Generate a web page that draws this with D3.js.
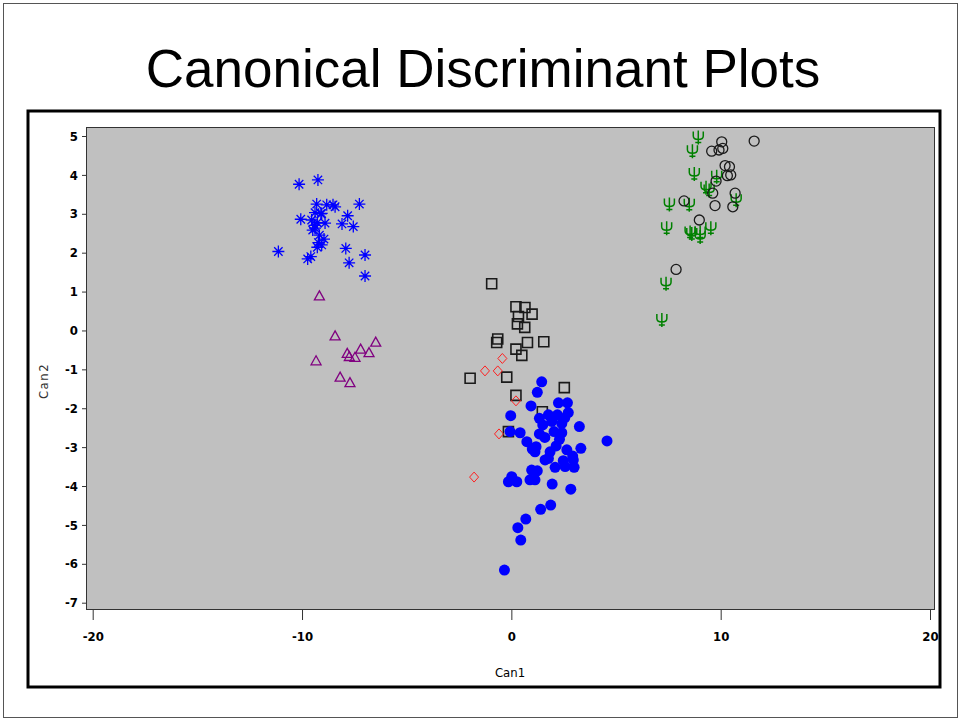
<!DOCTYPE html>
<html><head><meta charset="utf-8">
<script src="https://cdn.jsdelivr.net/npm/d3@7"></script>
<style>body{margin:0;background:#fff}svg{display:block}</style>
</head><body>
<svg id="c" width="961" height="721"></svg>
<script>
const title = "Canonical Discriminant Plots";
const xTicks = [-20, -10, 0, 10, 20];
const yTicks = [-7,-6,-5,-4,-3,-2,-1,0,1,2,3,4,5];
// groups: [Can1, Can2]
const stars = [[-10.14,3.76],[-9.24,3.87],[-9.30,3.25],[-8.82,3.23],[-8.42,3.18],[-8.52,3.23],[-7.26,3.25],[-9.06,3.01],[-9.38,3.03],[-7.82,2.95],[-10.06,2.86],[-9.54,2.84],[-8.90,2.76],[-9.27,2.77],[-8.09,2.74],[-7.55,2.67],[-9.49,2.58],[-9.38,2.63],[-9.17,2.45],[-9.22,2.26],[-9.06,2.20],[-9.27,2.14],[-11.13,2.03],[-7.91,2.11],[-6.99,1.94],[-9.58,1.90],[-9.73,1.84],[-7.75,1.74],[-6.99,1.40],[-9.10,3.00],[-8.95,2.35],[-9.40,2.70]];
const triangles = [[-9.17,0.89],[-8.42,-0.14],[-9.33,-0.78],[-7.84,-0.59],[-7.74,-0.67],[-7.47,-0.69],[-7.20,-0.48],[-6.80,-0.57],[-6.48,-0.30],[-8.18,-1.20],[-7.71,-1.34]];
const squares = [[-0.94,1.20],[0.22,0.61],[0.65,0.59],[0.99,0.42],[0.34,0.36],[0.29,0.17],[0.64,0.08],[-0.65,-0.22],[-0.70,-0.31],[0.77,-0.31],[1.55,-0.29],[0.22,-0.48],[0.50,-0.64],[-1.97,-1.23],[-0.22,-1.20],[2.53,-1.47],[0.22,-1.67],[1.48,-2.09],[-0.14,-2.60]];
const diamonds = [[-0.43,-0.72],[-1.26,-1.04],[-0.65,-1.04],[0.22,-1.81],[-0.59,-2.66],[-1.78,-3.77]];
const dots = [[1.45,-1.32],[1.24,-1.59],[0.94,-1.94],[-0.03,-2.19],[2.25,-1.86],[2.68,-1.86],[2.72,-2.11],[1.34,-2.26],[1.77,-2.17],[2.20,-2.17],[1.93,-2.34],[1.50,-2.43],[2.41,-2.39],[3.25,-2.47],[-0.06,-2.60],[0.42,-2.63],[1.34,-2.66],[2.04,-2.60],[2.41,-2.63],[0.74,-2.86],[1.18,-2.99],[2.14,-2.97],[2.65,-3.07],[3.32,-3.03],[1.13,-3.12],[1.85,-3.12],[1.77,-3.29],[2.93,-3.23],[2.48,-3.35],[2.96,-3.33],[1.61,-3.33],[2.09,-3.52],[2.57,-3.50],[3.00,-3.52],[0.97,-3.59],[1.24,-3.61],[0.02,-3.76],[-0.14,-3.89],[0.26,-3.89],[0.89,-3.84],[1.13,-3.84],[2.84,-4.08],[1.88,-4.49],[1.40,-4.60],[0.69,-4.85],[0.31,-5.07],[0.45,-5.39],[-0.33,-6.16],[4.57,-2.84],[1.60,-2.75],[2.30,-2.80],[1.00,-3.05],[2.55,-2.25],[1.95,-3.95]];
const psis = [[8.93,4.96],[8.65,4.61],[8.74,4.02],[9.81,3.95],[9.30,3.67],[10.74,3.35],[7.55,3.24],[8.50,3.23],[7.42,2.63],[8.54,2.52],[9.02,2.52],[9.53,2.63],[8.62,2.48],[9.02,2.40],[7.39,1.20],[7.19,0.27],[9.45,3.60]];
const rings = [[11.60,4.87],[10.05,4.85],[10.10,4.68],[9.57,4.61],[9.92,4.64],[10.21,4.24],[10.42,4.21],[10.32,3.98],[10.48,4.00],[9.78,3.84],[9.62,3.53],[10.69,3.53],[8.25,3.33],[9.73,3.21],[10.58,3.18],[8.98,2.84],[7.87,1.57]];

const svg = d3.select("#c");
// outer borders
svg.append("rect").attr("x",3.5).attr("y",3.5).attr("width",954).attr("height",714)
  .attr("fill","none").attr("stroke","#555").attr("stroke-width",1);
svg.append("rect").attr("x",28).attr("y",111).attr("width",912).attr("height",576)
  .attr("fill","none").attr("stroke","#000").attr("stroke-width",3);
svg.append("text").attr("x",483).attr("y",87).attr("text-anchor","middle")
  .attr("font-family","'Liberation Sans', Arial, sans-serif").attr("font-size",53)
  .attr("fill","#000").text(title);

const x = d3.scaleLinear().domain([-20,20]).range([92.7,930]);
const y = d3.scaleLinear().domain([-7,5]).range([602.7,136]);

svg.append("rect").attr("x",86.5).attr("y",127.5).attr("width",848).attr("height",482)
  .attr("fill","#c0c0c0").attr("stroke","#333").attr("stroke-width",1);

const tickFont = "'Liberation Sans Narrow','Arial Narrow','DejaVu Sans Condensed',sans-serif";
const ya = svg.append("g").attr("transform","translate(86,0)")
  .call(d3.axisLeft(y).tickValues(yTicks).tickSize(4).tickPadding(4).tickFormat(d=>String(d)));
ya.select(".domain").remove();
const xa = svg.append("g").attr("transform","translate(0,610)")
  .call(d3.axisBottom(x).tickValues(xTicks).tickSize(10).tickPadding(18).tickFormat(d=>String(d)));
xa.select(".domain").remove();
[ya,xa].forEach(a=>{
  a.selectAll("line").attr("stroke","#333");
  a.selectAll("text").attr("font-family",tickFont).attr("font-weight","bold")
   .attr("font-size",13).attr("fill","#000");
});
xa.selectAll("text").attr("dy","0.2em");

svg.append("text").attr("x",510).attr("y",677).attr("text-anchor","middle")
  .attr("font-family",tickFont).attr("font-size",13).attr("fill","#000").text("Can1");
svg.append("text").attr("transform","translate(48,381) rotate(-90)").attr("text-anchor","middle")
  .attr("font-family",tickFont).attr("font-size",13).attr("letter-spacing","1.5px").attr("fill","#333").text("Can2");

const g = svg.append("g");
function draw(data, path, stroke, fill, sw){
  g.append("g").selectAll("path").data(data).join("path")
   .attr("transform",d=>`translate(${x(d[0])},${y(d[1])})`)
   .attr("d",path).attr("fill",fill).attr("stroke",stroke).attr("stroke-width",sw);
}
const starP = "M-6,0H6M0,-6V6M-4.2,-4.2L4.2,4.2M-4.2,4.2L4.2,-4.2";
const triP = "M0,-5L5,4H-5Z";
const sqP = "M-5,-5H5V5H-5Z";
const diaP = "M0,-5L4.5,0L0,5L-4.5,0Z";
const psiP = "M-5,-6V-1.5Q-5,2 0,2Q5,2 5,-1.5V-6M0,-7V7M-3,5H3";
draw(stars, starP, "#0000ff", "none", 1.3);
draw(triangles, triP, "#800080", "none", 1.3);
draw(squares, sqP, "#1a1a1a", "none", 1.6);
draw(diamonds, diaP, "#ff2020", "none", 1);
g.append("g").selectAll("circle").data(dots).join("circle")
  .attr("cx",d=>x(d[0])).attr("cy",d=>y(d[1])).attr("r",5.5).attr("fill","#0000ff");
draw(psis, psiP, "#008000", "none", 1.5);
g.append("g").selectAll("circle").data(rings).join("circle")
  .attr("cx",d=>x(d[0])).attr("cy",d=>y(d[1])).attr("r",5).attr("fill","none")
  .attr("stroke","#1a1a1a").attr("stroke-width",1.3);
</script>
</body></html>
